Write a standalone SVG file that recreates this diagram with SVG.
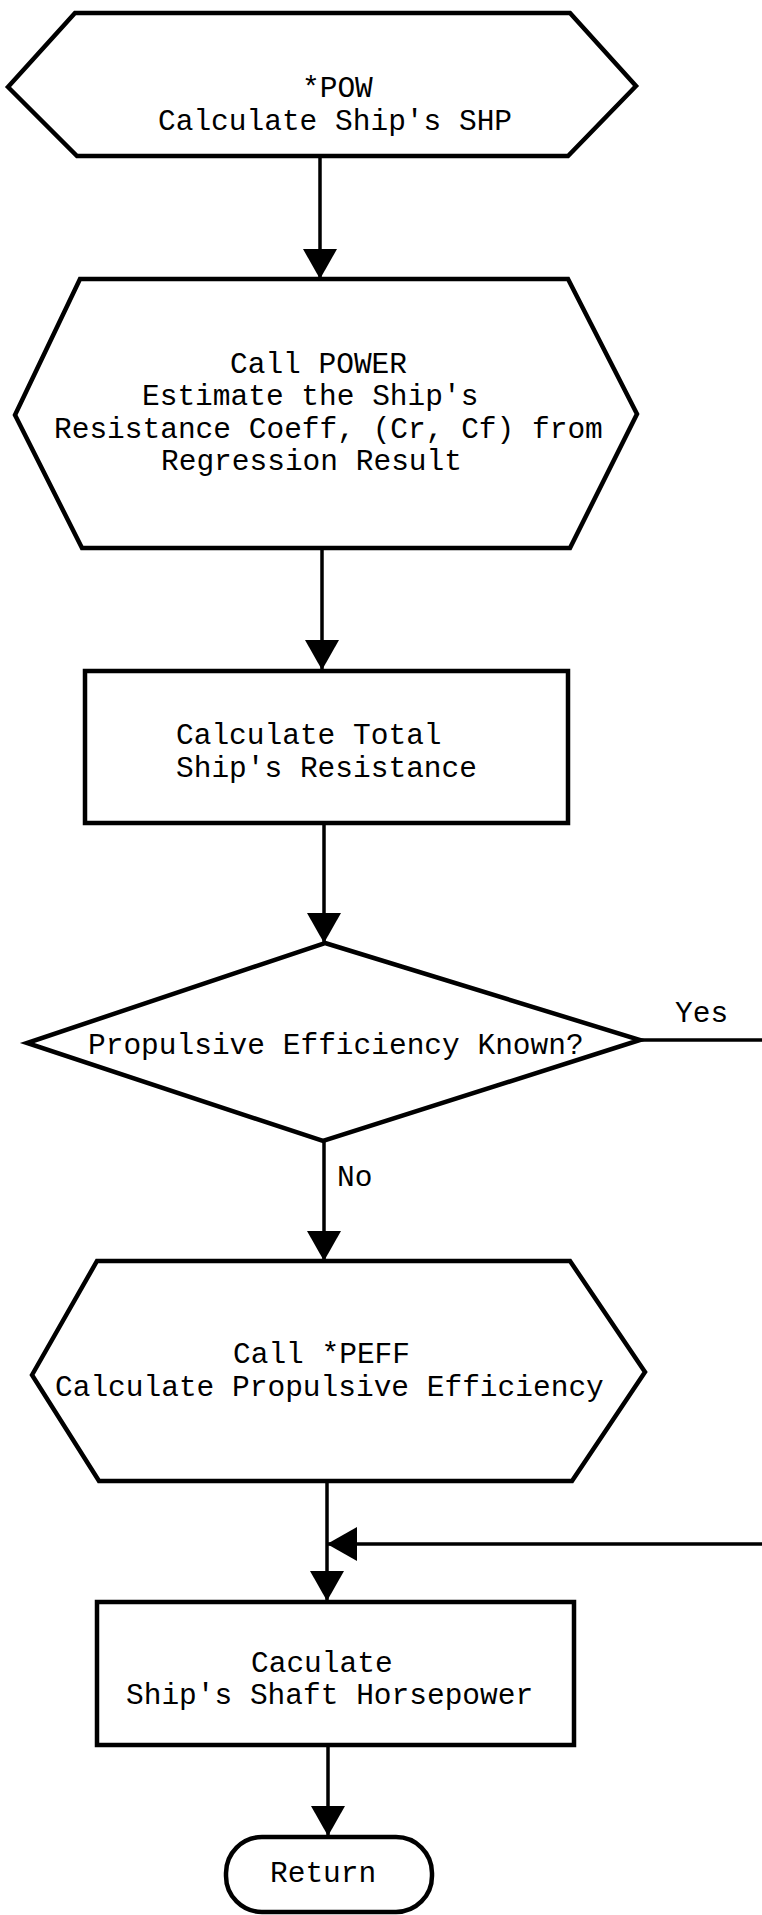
<svg xmlns="http://www.w3.org/2000/svg" width="762" height="1915" viewBox="0 0 762 1915">
<style>
.shape{fill:#fff;stroke:#000;stroke-width:4.5;stroke-linejoin:miter}
.conn{fill:none;stroke:#000;stroke-width:3.5}
.t{font-family:"Liberation Mono","Courier New",monospace;font-size:29.5px;fill:#000}
</style>
<defs>
<marker id="ah" viewBox="0 0 30 34" refX="30" refY="17" markerWidth="30" markerHeight="34" markerUnits="userSpaceOnUse" orient="auto">
<path d="M0,0 L30,17 L0,34 Z" fill="#000"/>
</marker>
</defs>
<rect width="762" height="1915" fill="#fff"/>
<g id="connectors">
<path class="conn" d="M320,158 L320,279" marker-end="url(#ah)"/>
<path class="conn" d="M322,550 L322,670" marker-end="url(#ah)"/>
<path class="conn" d="M324,825 L324,943" marker-end="url(#ah)"/>
<path class="conn" d="M640,1040 L762,1040"/>
<path class="conn" d="M324,1141 L324,1261" marker-end="url(#ah)"/>
<path class="conn" d="M327,1483 L327,1601" marker-end="url(#ah)"/>
<path class="conn" d="M762,1544 L327,1544" marker-end="url(#ah)"/>
<path class="conn" d="M328,1746 L328,1836" marker-end="url(#ah)"/>
<text class="t" x="675" y="1022">Yes</text>
<text class="t" x="337" y="1186">No</text>
</g>
<g id="start">
<polygon class="shape" points="8,87 75,13 570,13 636,86 568,156 77,156"/>
<text class="t" x="302" y="97">*POW</text>
<text class="t" x="158" y="130">Calculate Ship's SHP</text>
</g>
<g id="power">
<polygon class="shape" points="15,415 80,279 568,279 637,414 570,548 82,548"/>
<text class="t" x="230" y="373">Call POWER</text>
<text class="t" x="142" y="405">Estimate the Ship's</text>
<text class="t" x="54" y="438">Resistance Coeff, (Cr, Cf) from</text>
<text class="t" x="161" y="470">Regression Result</text>
</g>
<g id="total">
<rect class="shape" x="85" y="671" width="483" height="152"/>
<text class="t" x="176" y="744">Calculate Total</text>
<text class="t" x="176" y="777">Ship's Resistance</text>
</g>
<g id="decision">
<polygon class="shape" points="325,943 640,1040 323,1141 27,1043"/>
<text class="t" x="88" y="1054">Propulsive Efficiency Known?</text>
</g>
<g id="peff">
<polygon class="shape" points="32,1375 97,1261 570,1261 645,1372 572,1481 99,1481"/>
<text class="t" x="233" y="1363">Call *PEFF</text>
<text class="t" x="55" y="1396">Calculate Propulsive Efficiency</text>
</g>
<g id="shp">
<rect class="shape" x="97" y="1602" width="477" height="143"/>
<text class="t" x="251" y="1672">Caculate</text>
<text class="t" x="126" y="1704">Ship's Shaft Horsepower</text>
</g>
<g id="return">
<rect class="shape" x="226" y="1837" width="206" height="75" rx="36" ry="36"/>
<text class="t" x="270" y="1882">Return</text>
</g>
</svg>
